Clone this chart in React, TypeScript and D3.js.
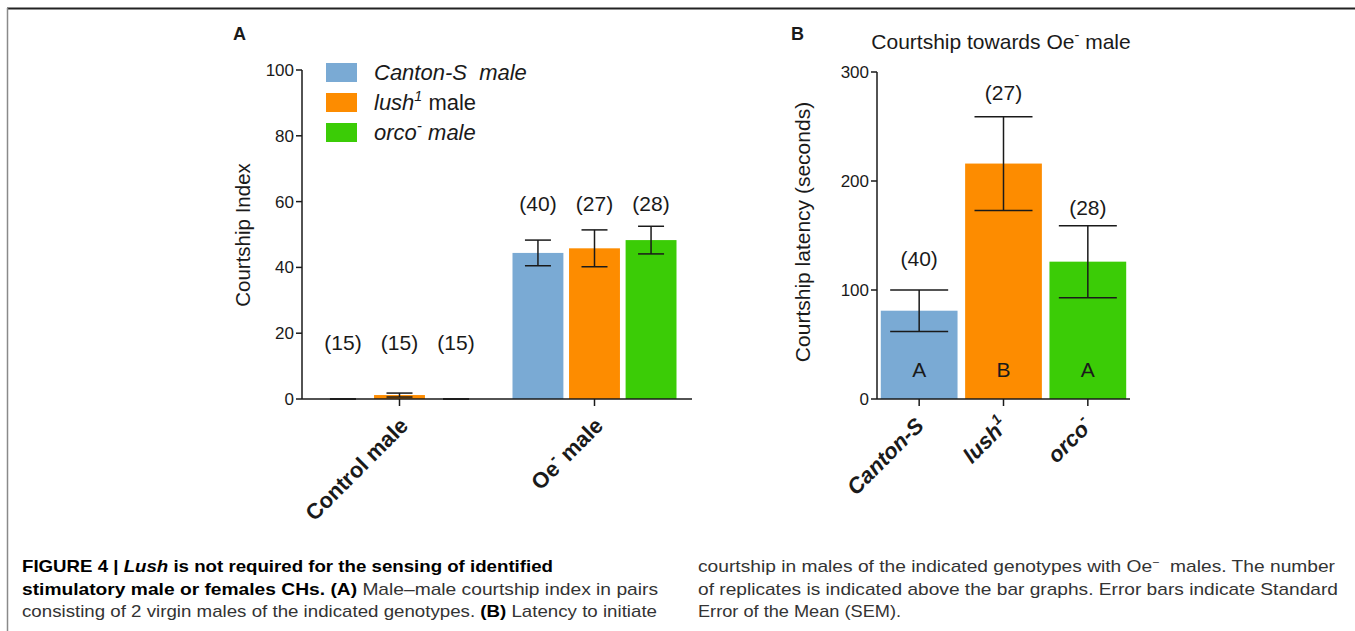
import React from 'react';
import * as d3 from 'd3';

// Panel A — courtship index
const GROUPS_A = ['Control male', 'Oe- male'];
const SERIES_A = ['Canton-S', 'lush1', 'orco-'];
const MEAN_A = [
  [0, 1.2, 0],
  [44.4, 45.8, 48.3],
];
const SEM_A = [
  [0, 0.6, 0],
  [3.9, 5.6, 4.2],
];
const N_A = [
  [15, 15, 15],
  [40, 27, 28],
];
const TICKS_A = [0, 20, 40, 60, 80, 100];

// Panel B — courtship latency
const GENOTYPES_B = ['Canton-S', 'lush1', 'orco-'];
const MEAN_B = [81, 216, 126];
const SEM_B = [19, 43, 33];
const N_B = [40, 27, 28];
const LETTERS_B = ['A', 'B', 'A'];
const TICKS_B = [0, 100, 200, 300];

const COLORS = ['#7aaad4', '#fd8c00', '#3bcc06'];
const FONT = '"Liberation Sans", Arial, Helvetica, sans-serif';
const INK = '#1a1a1a';

const CAPTION_LEFT = [
  { w: 531, parts: [
    { t: 'FIGURE 4 | ', b: true }, { t: 'Lush', b: true, i: true },
    { t: ' is not required for the sensing of identified', b: true }] },
  { w: 636, parts: [
    { t: 'stimulatory male or females CHs. (A)', b: true },
    { t: ' Male–male courtship index in pairs' }] },
  { w: 635, parts: [
    { t: 'consisting of 2 virgin males of the indicated genotypes. ' },
    { t: '(B)', b: true }, { t: ' Latency to initiate' }] },
];
const CAPTION_RIGHT = [
  { w: 637, parts: [
    { t: 'courtship in males of the indicated genotypes with Oe' }, { t: '−', sup: true },
    { t: '\u00a0 males. The number' }] },
  { w: 640, parts: [{ t: 'of replicates is indicated above the bar graphs. Error bars indicate Standard' }] },
  { w: 203, parts: [{ t: 'Error of the Mean (SEM).' }] },
];

// label text with italic gene names + superscripts
function geneLabel(name: string) {
  if (name === 'Canton-S') return <tspan fontStyle="italic">Canton-S</tspan>;
  if (name === 'lush1') return (
    <>
      <tspan fontStyle="italic">lush</tspan>
      <tspan fontStyle="italic" fontSize="0.65em" dy={-10}>1</tspan>
    </>
  );
  return (
    <>
      <tspan fontStyle="italic">orco</tspan>
      <tspan fontStyle="italic" fontSize="0.7em" dy={-10}>-</tspan>
    </>
  );
}

function ErrorBar({ x, y0, y1, cap = 13 }: { x: number; y0: number; y1: number; cap?: number }) {
  return (
    <g stroke={INK} strokeWidth={1.5}>
      <line x1={x} x2={x} y1={y0} y2={y1} />
      <line x1={x - cap} x2={x + cap} y1={y0} y2={y0} />
      <line x1={x - cap} x2={x + cap} y1={y1} y2={y1} />
    </g>
  );
}

function PanelA() {
  const y = d3.scaleLinear().domain([0, 100]).range([399, 70]);
  const x0 = d3.scaleBand<string>().domain(GROUPS_A).range([302, 692]);
  const x1 = d3.scaleBand<string>().domain(SERIES_A).range([-82, 82]).paddingInner(0.1);
  const base = y(0);

  return (
    <g fontFamily={FONT} fill={INK}>
      <text x={233} y={40} fontSize={18} fontWeight="bold">A</text>

      {GROUPS_A.map((g, gi) => {
        const cx = x0(g)! + x0.bandwidth() / 2;
        const capTop = d3.min(SERIES_A, (_, si) => y(MEAN_A[gi][si] + SEM_A[gi][si]))!;
        const labelY = Math.min(y(15), capTop - 15);
        return (
          <g key={g}>
            {SERIES_A.map((s, si) => {
              const bx = cx + x1(s)!;
              const m = MEAN_A[gi][si];
              const e = SEM_A[gi][si];
              const mx = bx + x1.bandwidth() / 2;
              return (
                <g key={s}>
                  <rect x={bx} y={y(m)} width={x1.bandwidth()} height={base - y(m)} fill={COLORS[si]} />
                  <ErrorBar x={mx} y0={y(m + e)} y1={y(Math.max(0, m - e))} />
                  <text x={mx} y={labelY} fontSize={21} textAnchor="middle">({N_A[gi][si]})</text>
                </g>
              );
            })}
          </g>
        );
      })}

      {/* axes */}
      <g stroke={INK} strokeWidth={1.5}>
        <line x1={302} x2={302} y1={y(100)} y2={base} />
        <line x1={302} x2={692} y1={base} y2={base} />
        {TICKS_A.map(t => <line key={t} x1={296} x2={302} y1={y(t)} y2={y(t)} />)}
        {GROUPS_A.map(g => {
          const cx = x0(g)! + x0.bandwidth() / 2;
          return <line key={g} x1={cx} x2={cx} y1={base} y2={base + 7} />;
        })}
      </g>
      {TICKS_A.map(t => (
        <text key={t} x={294} y={y(t) + 6} fontSize={17} textAnchor="end">{t}</text>
      ))}
      <text transform="translate(250,235) rotate(-90)" fontSize={20.5} textAnchor="middle">Courtship Index</text>

      {GROUPS_A.map((g, gi) => {
        const cx = x0(g)! + x0.bandwidth() / 2;
        return (
          <text key={g} transform={`translate(${cx + 10},${base + 28}) rotate(-45)`}
            fontSize={22} fontWeight="bold" textAnchor="end">
            {gi === 0 ? 'Control male' : (
              <>
                <tspan>Oe</tspan>
                <tspan fontSize="0.7em" dy={-10}>-</tspan>
                <tspan dy={10}>{'\u00a0male'}</tspan>
              </>
            )}
          </text>
        );
      })}

      {/* legend */}
      {SERIES_A.map((s, si) => {
        const ly = 63 + si * 30;
        return (
          <g key={s}>
            <rect x={326} y={ly} width={31} height={19} fill={COLORS[si]} />
            <text x={374} y={ly + 17} fontSize={22}>
              {si === 0 && <tspan fontStyle="italic">{'Canton-S\u00a0 male'}</tspan>}
              {si === 1 && (
                <>
                  <tspan fontStyle="italic">lush</tspan>
                  <tspan fontStyle="italic" fontSize="0.65em" dy={-9}>1</tspan>
                  <tspan dy={9}>{'\u00a0male'}</tspan>
                </>
              )}
              {si === 2 && (
                <>
                  <tspan fontStyle="italic">orco</tspan>
                  <tspan fontStyle="italic" fontSize="0.7em" dy={-9}>-</tspan>
                  <tspan fontStyle="italic" dy={9}>{'\u00a0male'}</tspan>
                </>
              )}
            </text>
          </g>
        );
      })}
    </g>
  );
}

function PanelB() {
  const y = d3.scaleLinear().domain([0, 300]).range([399, 72]);
  const x = d3.scaleBand<string>().domain(GENOTYPES_B).range([877, 1130]).paddingInner(0.09).paddingOuter(0.045);
  const base = y(0);
  const nOffset = [24, 17, 11];

  return (
    <g fontFamily={FONT} fill={INK}>
      <text x={791} y={40} fontSize={18} fontWeight="bold">B</text>
      <text x={1001} y={49} fontSize={21} textAnchor="middle">
        <tspan>Courtship towards Oe</tspan>
        <tspan fontSize="0.7em" dy={-9}>-</tspan>
        <tspan dy={9}>{'\u00a0male'}</tspan>
      </text>

      {GENOTYPES_B.map((gname, i) => {
        const bx = x(gname)!;
        const cx = bx + x.bandwidth() / 2;
        const m = MEAN_B[i];
        const e = SEM_B[i];
        return (
          <g key={gname}>
            <rect x={bx} y={y(m)} width={x.bandwidth()} height={base - y(m)} fill={COLORS[i]} />
            <ErrorBar x={cx} y0={y(m + e)} y1={y(m - e)} cap={29} />
            <text x={cx} y={y(m + e) - nOffset[i]} fontSize={21} textAnchor="middle">({N_B[i]})</text>
            <text x={cx} y={base - 22} fontSize={21} textAnchor="middle">{LETTERS_B[i]}</text>
          </g>
        );
      })}

      <g stroke={INK} strokeWidth={1.5}>
        <line x1={877} x2={877} y1={y(300)} y2={base} />
        <line x1={877} x2={1130} y1={base} y2={base} />
        {TICKS_B.map(t => <line key={t} x1={871} x2={877} y1={y(t)} y2={y(t)} />)}
        {GENOTYPES_B.map(gname => {
          const cx = x(gname)! + x.bandwidth() / 2;
          return <line key={gname} x1={cx} x2={cx} y1={base} y2={base + 7} />;
        })}
      </g>
      {TICKS_B.map(t => (
        <text key={t} x={869} y={y(t) + 6} fontSize={17} textAnchor="end">{t}</text>
      ))}
      <text transform="translate(810,232) rotate(-90)" fontSize={21} textAnchor="middle">
        Courtship latency (seconds)
      </text>

      {GENOTYPES_B.map(gname => {
        const cx = x(gname)! + x.bandwidth() / 2;
        return (
          <text key={gname} transform={`translate(${cx + 6},${base + 28}) rotate(-45)`}
            fontSize={22} fontWeight="bold" textAnchor="end">
            {geneLabel(gname)}
          </text>
        );
      })}
    </g>
  );
}

type Part = { t: string; b?: boolean; i?: boolean; sup?: boolean };

function Caption({ x, lines }: { x: number; lines: { w: number; parts: Part[] }[] }) {
  return (
    <g fontFamily={FONT} fontSize={17}>
      {lines.map((ln, li) => (
        <text key={li} x={x} y={572 + li * 22.5} textLength={ln.w} lengthAdjust="spacingAndGlyphs" fill="#333">
          {ln.parts.map((p, pi) => (
            <tspan key={pi}
              fontWeight={p.b ? 'bold' : 'normal'}
              fontStyle={p.i ? 'italic' : 'normal'}
              fill={p.b ? '#000' : '#333'}
              fontSize={p.sup ? 11 : undefined}
              baselineShift={p.sup ? '6' : undefined}>
              {p.t}
            </tspan>
          ))}
        </text>
      ))}
    </g>
  );
}

export default function App() {
  return (
    <svg width={1355} height={631} style={{ position: 'absolute', left: 0, top: 0, background: '#fff' }}>
      <rect width={1355} height={631} fill="#fff" />
      <line x1={7} x2={1355} y1={8.5} y2={8.5} stroke="#222" strokeWidth={2} />
      <line x1={7.5} x2={7.5} y1={8} y2={631} stroke="#8a8a8a" strokeWidth={1.5} />
      <PanelA />
      <PanelB />
      <Caption x={22} lines={CAPTION_LEFT} />
      <Caption x={698} lines={CAPTION_RIGHT} />
    </svg>
  );
}
